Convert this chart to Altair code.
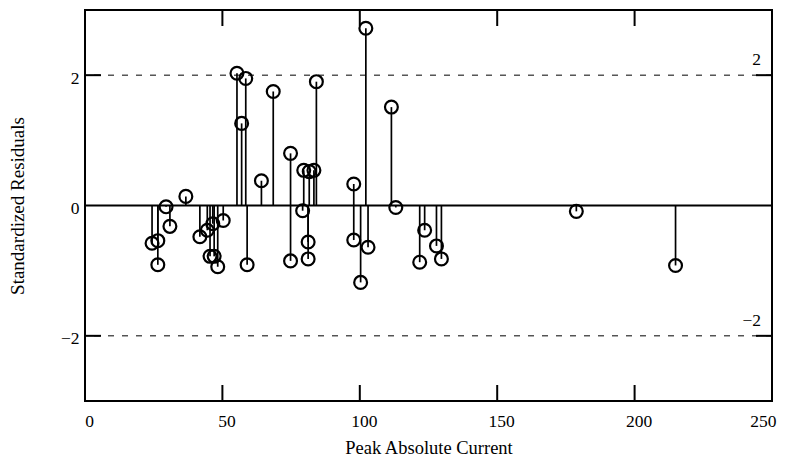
import altair as alt
import pandas as pd

# data
current = [24.4, 26.5, 26.5, 29.5, 30.9, 36.7, 41.8, 44.5, 46.5, 50.3, 45.5, 47.0, 48.3,
           55.3, 57.0, 58.5, 59.0, 64.2, 68.5, 74.8, 74.8, 79.2, 79.6, 81.2, 81.2, 81.6,
           83.3, 84.2, 97.8, 97.8, 100.3, 102.2, 103.0, 111.5, 113.1, 121.8, 123.6,
           127.9, 129.7, 178.8, 214.9]
residual = [-0.58, -0.54, -0.91, -0.02, -0.32, 0.14, -0.48, -0.38, -0.28, -0.23, -0.78, -0.78, -0.94,
            2.03, 1.26, 1.95, -0.91, 0.38, 1.75, 0.80, -0.85, -0.08, 0.54, -0.56, -0.82, 0.52,
            0.54, 1.90, 0.33, -0.53, -1.18, 2.72, -0.64, 1.51, -0.03, -0.87, -0.38,
            -0.62, -0.82, -0.09, -0.92]
x_ticks = [0, 50, 100, 150, 200, 250]
inner_x_ticks = [50, 100, 150, 200]
y_ticks = [-2, 0, 2]
limits = [2, -2]
limit_labels = ["2", "−2"]

W, H = 687, 391
FONT = "Liberation Serif"

df = pd.DataFrame({"x": current, "y": residual})
lim = pd.DataFrame({"y": limits, "label": limit_labels})
xt = pd.DataFrame({"x": inner_x_ticks})
yt = pd.DataFrame({"y": limits})

xs = alt.Scale(domain=[0, 250], nice=False, zero=False)
ys = alt.Scale(domain=[-3, 3], nice=False, zero=False)

xaxis = alt.Axis(values=x_ticks, format="d", ticks=False, domain=False, grid=False,
                 labelFont=FONT, labelFontSize=17.5, labelColor="black", labelPadding=11,
                 labelFlush=False, labelOffset=4,
                 labelAlign={"condition": {"test": "datum.value >= 250", "value": "right"},
                             "value": "center"},
                 title="Peak Absolute Current", titleFont=FONT, titleFontSize=18.5,
                 titleFontWeight="normal", titleColor="black", titlePadding=9)
yaxis = alt.Axis(values=y_ticks, format="d", ticks=False, domain=False, grid=False,
                 labelFont=FONT, labelFontSize=17.5, labelColor="black", labelPadding=6,
                 labelOffset=3,
                 title="Standardized Residuals", titleFont=FONT, titleFontSize=19,
                 titleFontWeight="normal", titleColor="black", titlePadding=33)

base = alt.Chart(df)

stems = base.mark_rule(color="black", strokeWidth=1.7).encode(
    x=alt.X("x:Q", scale=xs, axis=xaxis),
    y=alt.Y("y:Q", scale=ys, axis=yaxis),
    y2=alt.datum(0),
)
points = base.mark_point(shape="circle", filled=False, color="black", size=165,
                         strokeWidth=2.2, opacity=1).encode(
    x=alt.X("x:Q", scale=xs),
    y=alt.Y("y:Q", scale=ys),
)
zero = alt.Chart(pd.DataFrame({"y": [0]})).mark_rule(color="black", strokeWidth=2).encode(
    y=alt.Y("y:Q", scale=ys)
)
dashed = alt.Chart(lim).mark_rule(color="black", strokeWidth=1, strokeDash=[6, 8]).encode(
    y=alt.Y("y:Q", scale=ys)
)
lab = alt.Chart(lim).mark_text(font=FONT, fontSize=17.5, color="black", align="right",
                              baseline="bottom", dx=-11, dy=-6).encode(
    x=alt.datum(250), y=alt.Y("y:Q", scale=ys), text="label:N"
)
bt = alt.Chart(xt).mark_rule(color="black", strokeWidth=2).encode(
    x=alt.X("x:Q", scale=xs), y=alt.value(H), y2=alt.value(H - 16)
)
tt = alt.Chart(xt).mark_rule(color="black", strokeWidth=2).encode(
    x=alt.X("x:Q", scale=xs), y=alt.value(0), y2=alt.value(16)
)
lt = alt.Chart(yt).mark_rule(color="black", strokeWidth=2).encode(
    y=alt.Y("y:Q", scale=ys), x=alt.value(0), x2=alt.value(16)
)
rt = alt.Chart(yt).mark_rule(color="black", strokeWidth=2).encode(
    y=alt.Y("y:Q", scale=ys), x=alt.value(W - 16), x2=alt.value(W)
)

chart = alt.layer(dashed, zero, stems, points, lab, bt, tt, lt, rt).properties(
    width=W, height=H,
    autosize=alt.AutoSizeParams(type="none"),
    padding={"left": 77, "top": 2, "right": 11, "bottom": 57},
    background="white",
).configure_view(stroke="black", strokeWidth=2)

chart.save("out.html", embed_options={"renderer": "svg", "actions": False})
